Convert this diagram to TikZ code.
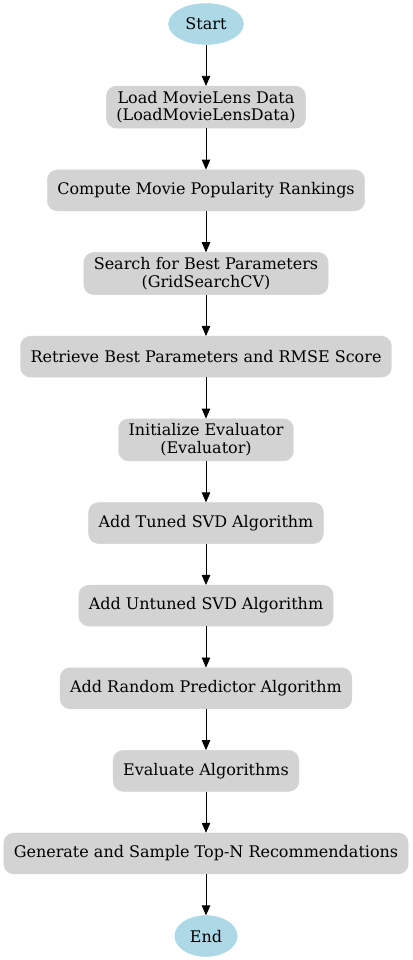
\documentclass[tikz,border=0pt]{standalone}
\usepackage{fontspec}
\setmainfont{DejaVu Serif}
\usetikzlibrary{positioning,arrows.meta,shapes}

\definecolor{boxgray}{HTML}{D3D3D3}
\definecolor{termblue}{HTML}{ADD8E6}

\tikzset{
	stepbox/.style={draw=boxgray, fill=boxgray, rounded corners=10pt, align=center,
		minimum height=41pt, inner xsep=10pt, inner ysep=5pt},
	terminal/.style={ellipse, draw=termblue, fill=termblue, minimum height=41pt,
		inner xsep=6pt, inner ysep=3pt},
}

\begin{document}
\begin{tikzpicture}[>={Triangle[length=10pt,width=8.5pt]}, font=\fontsize{16}{17.5}\selectfont, node distance=41.2pt]
\useasboundingbox (0,0) rectangle (412pt,-960pt);
\node[terminal] (start) at (206pt,-24pt) {Start};
\node[stepbox, below=of start] (load) {Load MovieLens Data\\(LoadMovieLensData)};
\node[stepbox, below=of load] (popular) {Compute Movie Popularity Rankings};
\node[stepbox, below=of popular] (search) {Search for Best Parameters\\(GridSearchCV)};
\node[stepbox, below=of search] (best) {Retrieve Best Parameters and RMSE Score};
\node[stepbox, below=of best] (evaluator) {Initialize Evaluator\\(Evaluator)};
\node[stepbox, below=of evaluator] (tuned) {Add Tuned SVD Algorithm};
\node[stepbox, below=of tuned] (untuned) {Add Untuned SVD Algorithm};
\node[stepbox, below=of untuned] (random) {Add Random Predictor Algorithm};
\node[stepbox, below=of random] (evaluate) {Evaluate Algorithms};
\node[stepbox, below=of evaluate] (topn) {Generate and Sample Top-N Recommendations};
\node[terminal, below=of topn] (end) {End};
\path[->, line width=0.8pt]
(start) edge (load)
(load) edge (popular)
(popular) edge (search)
(search) edge (best)
(best) edge (evaluator)
(evaluator) edge (tuned)
(tuned) edge (untuned)
(untuned) edge (random)
(random) edge (evaluate)
(evaluate) edge (topn)
(topn) edge (end)
;
\end{tikzpicture}
\end{document}
